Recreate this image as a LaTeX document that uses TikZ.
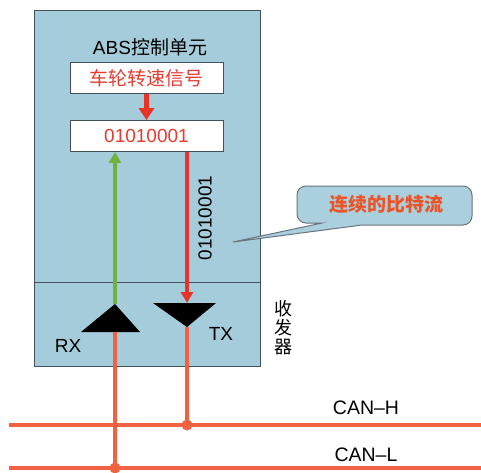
\documentclass[tikz,border=0pt]{standalone}
\usepackage{fontspec}
\setmainfont{Liberation Sans}
\newfontfamily\cjk{Noto Sans CJK SC}
\usetikzlibrary{arrows.meta}
\definecolor{boxblue}{RGB}{165,204,218}
\definecolor{edgegray}{RGB}{70,80,95}
\definecolor{sigred}{RGB}{232,52,40}
\definecolor{txtred}{RGB}{228,60,50}
\definecolor{busor}{RGB}{242,98,66}
\definecolor{rxgreen}{RGB}{112,178,62}
\definecolor{calltxt}{RGB}{236,84,40}
\definecolor{callblue}{RGB}{170,208,222}
\tikzset{
  whitebox/.style={draw=edgegray, line width=0.8pt, fill=white, minimum width=153pt, minimum height=31pt, inner sep=0pt, font=\fontsize{19}{19}\selectfont, text=txtred},
  lbl/.style={font=\fontsize{19}{19}\selectfont, text=black, inner sep=0pt},
  bus/.style={busor, line width=4.5pt},
  tri/.style={fill=black},
  junction/.style={circle, fill=busor, minimum size=11pt, inner sep=0pt},
  callout/.style={draw=edgegray!80, line width=1pt, fill=callblue}
}
\begin{document}
\begin{tikzpicture}[x=1pt,y=-1pt]
\useasboundingbox (0,0) rectangle (481,472);
% main box
\draw[fill=boxblue, draw=edgegray, line width=0.9pt] (34,10) rectangle (260,366);
\draw[edgegray, line width=0.9pt] (34,282) -- (260,282);
\node[lbl] (title) at (150,47) {ABS{\cjk 控制单元}};
\node[whitebox] (box1) at (146.5,78) {\cjk 车轮转速信号};
\node[whitebox] (box2) at (146.5,136) {01010001};
\draw[sigred, line width=5pt, -{Triangle[width=15pt,length=12pt]}] (box1.south) -- (box2.north);
% triangles
\coordinate (rxtop) at (115,304);
\coordinate (rxbot) at (115,332);
\coordinate (txtop) at (187,303);
\coordinate (txbot) at (187,327);
\fill[tri] (rxtop) -- (81,332) -- (140,332) -- cycle;
\fill[tri] (153,303) -- (216,303) -- (txbot) -- cycle;
% arrows
\draw[rxgreen, line width=4pt, -{Triangle[width=12pt,length=11pt]}] (rxtop) -- (rxtop |- box2.south);
\draw[sigred, line width=4pt, -{Triangle[width=12pt,length=11pt]}] (txtop |- box2.south) -- (txtop);
\node[lbl, rotate=90] (bits) at (205,218) {01010001};
\node[lbl] (rx) at (68,346) {RX};
\node[lbl] (tx) at (221,334) {TX};
\node[lbl, align=center, font=\cjk\fontsize{18}{19}\selectfont] (trx) at (283,328) {收\\发\\器};
% bus
\coordinate (hl) at (9,425);
\coordinate (hr) at (481,425);
\coordinate (ll) at (9,468);
\coordinate (lr) at (481,468);
\draw[bus] (hl) -- (hr);
\draw[bus] (ll) -- (lr);
\draw[bus] (rxbot) -- (rxbot |- ll);
\draw[bus] (txbot) -- (txbot |- hl);
\node[junction] (jh) at (txbot |- hl) {};
\node[junction] (jl) at (rxbot |- ll) {};
\node[lbl, font=\fontsize{19.5}{19.5}\selectfont] (canh) at (366,408) {CAN–H};
\node[lbl, font=\fontsize{19.5}{19.5}\selectfont] (canl) at (366,455) {CAN–L};
% callout
\draw[callout] (306,186) -- (463,186) to[out=0,in=90] (472,195) -- (472,216)
  to[out=-90,in=0] (463,225) -- (362,225) -- (233,242) -- (322,223) -- (306,223)
  to[out=180,in=-90] (297,214) -- (297,195) to[out=90,in=180] (306,186) -- cycle;
\node[font=\cjk\bfseries\fontsize{19}{19}\selectfont, text=calltxt, inner sep=0pt] (callt) at (386,204) {连续的比特流};
\end{tikzpicture}
\end{document}
